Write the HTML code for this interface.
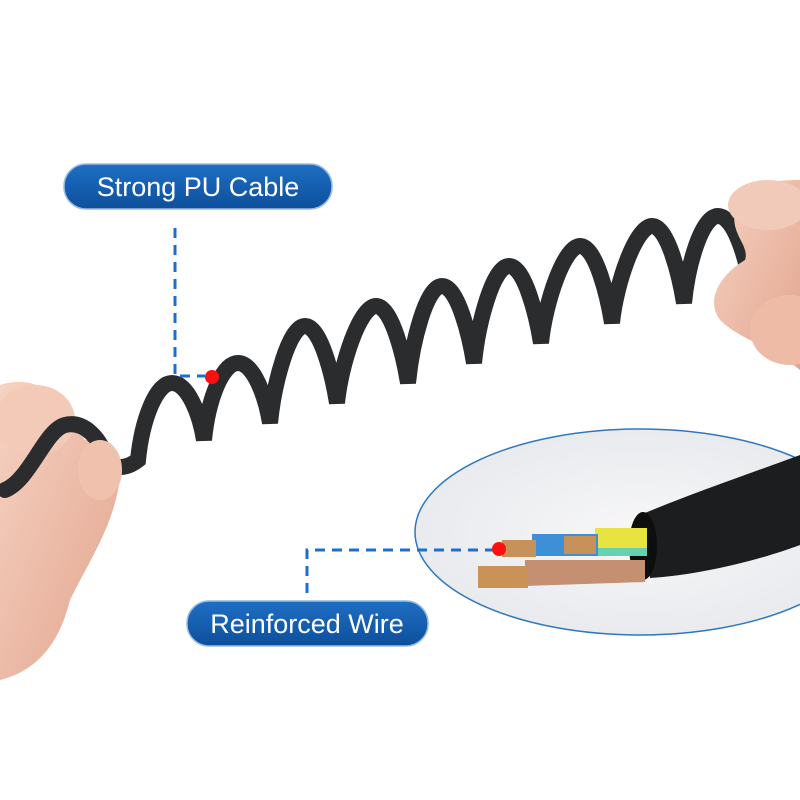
<!DOCTYPE html>
<html><head><meta charset="utf-8"><style>
html,body{margin:0;padding:0;background:#fff;}
svg{display:block}
</style></head><body>
<svg width="800" height="800" viewBox="0 0 800 800" xmlns="http://www.w3.org/2000/svg">
<defs>
<radialGradient id="ell" cx="0.5" cy="0.5" r="0.6"><stop offset="0" stop-color="#f7f7f8"/><stop offset="1" stop-color="#e6e8ec"/></radialGradient>
<linearGradient id="skin" x1="0" y1="0" x2="1" y2="1"><stop offset="0" stop-color="#f6d2c2"/><stop offset="1" stop-color="#e2a48e"/></linearGradient>
<linearGradient id="pill" x1="0" y1="0" x2="0" y2="1"><stop offset="0" stop-color="#1f6fc4"/><stop offset="1" stop-color="#0d4f9c"/></linearGradient>
</defs>
<rect width="800" height="800" fill="#fff"/>
<path d="M0 385 C30 375 60 390 70 420 L85 440 C110 440 125 460 118 490 C110 530 90 560 70 600 C60 640 40 670 0 680 Z" fill="url(#skin)"/>
<ellipse cx="35" cy="420" rx="40" ry="35" fill="#f3c9b8"/>
<path d="M5 490 C30 480 45 430 65 425 C85 420 100 440 105 455 C110 470 125 470 138 460
C142 420 156 383 172 383 C188 383 200 415 204 440
C208 400 222 363 238 363 C254 363 266 398 270 423
C274 383 289 326 305 326 C321 326 333 378 337 403
C341 363 360 306 376 306 C392 306 404 358 408 383
C412 343 426 286 442 286 C458 286 470 338 474 363
C478 323 493 266 509 266 C525 266 537 318 541 343
C545 303 564 246 580 246 C596 246 608 298 612 323
C616 283 636 226 652 226 C668 226 680 278 684 303
C688 263 702 216 718 216 C734 216 746 258 750 283
C760 290 780 275 800 265"
fill="none" stroke="#2a2c2e" stroke-width="16" stroke-linecap="round"/>
<ellipse cx="100" cy="470" rx="22" ry="30" fill="#f0c2ae"/>
<path d="M800 180 C770 180 740 185 735 210 C730 235 750 245 745 260 C720 275 705 300 720 320 C740 340 770 345 800 370 Z" fill="url(#skin)"/>
<ellipse cx="768" cy="205" rx="40" ry="25" fill="#f2cab9"/>
<ellipse cx="790" cy="330" rx="40" ry="35" fill="#eebba6"/>
<ellipse cx="640" cy="532" rx="225" ry="103" fill="url(#ell)" stroke="#2f78c0" stroke-width="1.5"/>
<path d="M640 515 C700 490 760 470 800 455 L800 545 C760 560 700 575 650 578 Z" fill="#1c1d1f"/>
<ellipse cx="643" cy="546" rx="14" ry="34" fill="#0e0e0f"/>
<path d="M525 560 L645 560 L645 582 L525 586 Z" fill="#c58f72"/>
<rect x="478" y="566" width="50" height="22" fill="#c99357"/>
<rect x="595" y="528" width="52" height="26" fill="#e9e342"/>
<rect x="595" y="548" width="52" height="8" fill="#66d0b0"/>
<rect x="532" y="534" width="66" height="22" fill="#3e8fd6"/>
<rect x="564" y="536" width="32" height="18" fill="#c7915a"/>
<rect x="502" y="540" width="34" height="17" fill="#c7915a"/>
<path d="M175 228 V376 H205" fill="none" stroke="#1a6fd0" stroke-width="3" stroke-dasharray="10 7"/>
<path d="M307 593 V550 H495" fill="none" stroke="#1a6fd0" stroke-width="3" stroke-dasharray="10 7"/>
<circle cx="212" cy="377" r="7" fill="#ff1010"/>
<circle cx="499" cy="549" r="7" fill="#ff1010"/>
<rect x="64" y="164" width="268" height="45" rx="22" fill="url(#pill)" stroke="#9bbce0" stroke-width="1.5"/>
<text x="198" y="196" text-anchor="middle" font-family="Liberation Sans, sans-serif" font-size="27" fill="#fff">Strong PU Cable</text>
<rect x="187" y="601" width="241" height="45" rx="22" fill="url(#pill)" stroke="#9bbce0" stroke-width="1.5"/>
<text x="307" y="633" text-anchor="middle" font-family="Liberation Sans, sans-serif" font-size="27" fill="#fff">Reinforced Wire</text>
</svg>
</body></html>
